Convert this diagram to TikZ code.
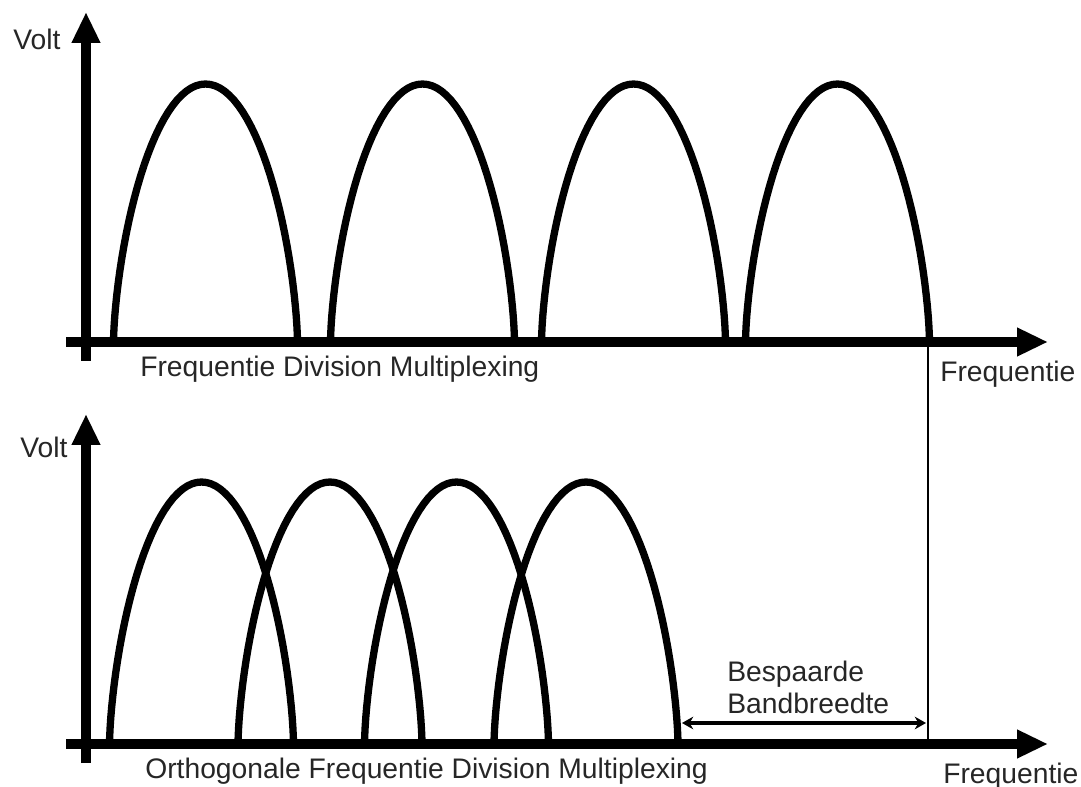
\documentclass[tikz,border=0pt]{standalone}
\usepackage{fontspec}
\setmainfont{Liberation Sans}
\usepackage{tikz}
\usetikzlibrary{arrows.meta,positioning}

\begin{document}
\begin{tikzpicture}[x=0.025cm,y=-0.025cm,
  font=\fontsize{20.1}{22.7}\selectfont,
  axis/.style={line width=7.8pt,-{Triangle[length=22pt,width=19pt]}},
  arch/.style={line width=5.2pt},
  lbl/.style={anchor=base west,inner sep=0pt,text=black!85},
  span/.style={line width=2.2pt,{Stealth[length=8pt,width=9pt]}-{Stealth[length=8pt,width=9pt]}}]
\useasboundingbox (0,0) rectangle (1081,787);
% --- top: frequency division multiplexing ---
\coordinate (ty0) at (86,361);
\coordinate (ty1) at (86,12);
\coordinate (tx0) at (66,342);
\coordinate (tx1) at (1048,342);
\foreach \c in {205.5,422.5,633.5,837.5}
  \draw[arch] (\c-92,342) -- plot[domain=-89.5:89.5,samples=61]
    ({\c+92*sin(\x)},{342-258*cos(\x)^1.28}) -- (\c+92,342);
\draw[axis] (ty0) -- (ty1);
\draw[axis] (tx0) -- (tx1);
\node[lbl] (voltT) at (13,50) {Volt};
\node[lbl] (fdm) at (140,377) {Frequentie Division Multiplexing};
\node[lbl] (frqT) at (940,382) {Frequentie};
% --- bottom: orthogonal FDM ---
\coordinate (by0) at (86,763);
\coordinate (by1) at (86,414);
\coordinate (bx0) at (66,744);
\coordinate (bx1) at (1048,744);
\foreach \c in {201.5,330,456.5,586}
  \draw[arch] (\c-92,744) -- plot[domain=-89.5:89.5,samples=61]
    ({\c+92*sin(\x)},{744-262*cos(\x)^1.28}) -- (\c+92,744);
\draw[axis] (by0) -- (by1);
\draw[axis] (bx0) -- (bx1);
\node[lbl] (voltB) at (20,458) {Volt};
\node[lbl] (ofdm) at (145,778) {Orthogonale Frequentie Division Multiplexing};
\node[lbl] (frqB) at (943,783) {Frequentie};
% --- saved bandwidth ---
\coordinate (cut1) at (928,342);
\coordinate (cut2) at (928,744);
\draw[line width=0.9pt] (cut1) -- (cut2);
\coordinate (bw0) at (682,723);
\coordinate (bw1) at (926,723);
\draw[span] (bw0) -- (bw1);
\node[anchor=north west,inner sep=0pt,align=left,text=black!85] (bsp) at (727,661)
  {Bespaarde\\Bandbreedte};
\end{tikzpicture}
\end{document}
